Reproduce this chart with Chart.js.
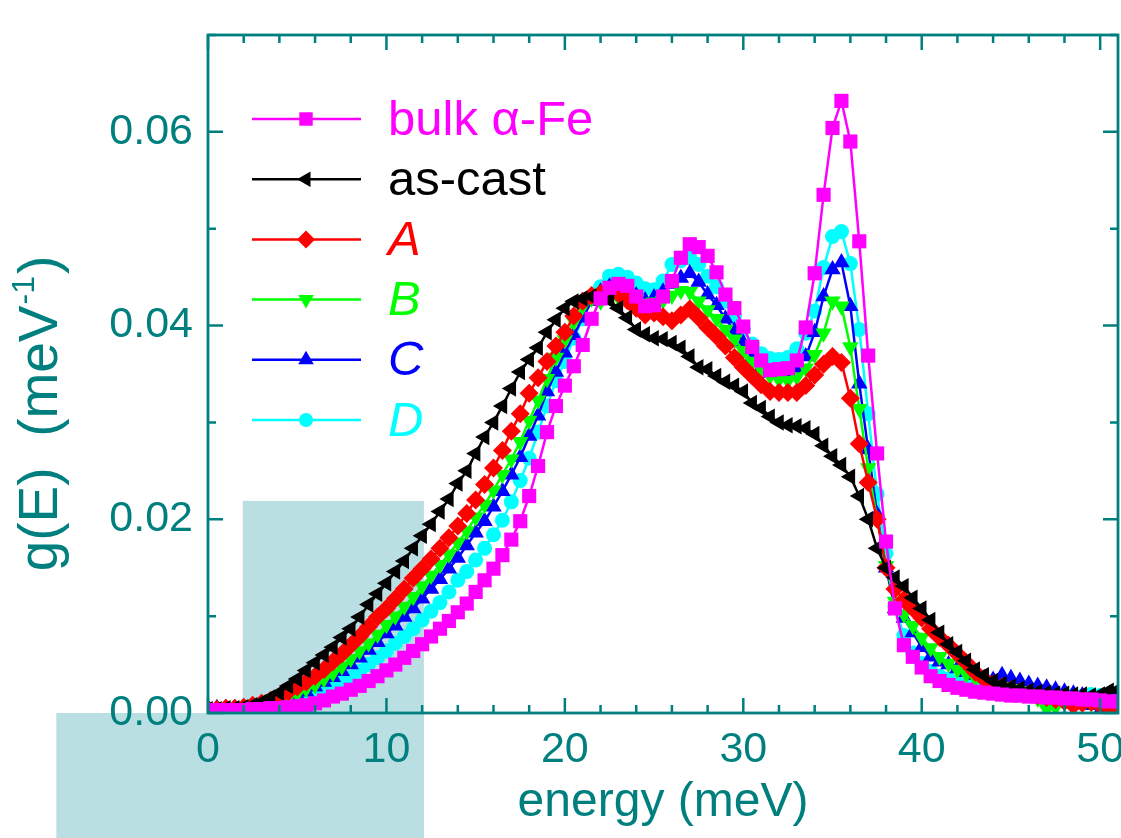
<!DOCTYPE html>
<html><head><meta charset="utf-8">
<script src="https://cdn.jsdelivr.net/npm/chart.js@4.4.1/dist/chart.umd.min.js"></script>
<style>html,body{margin:0;padding:0;background:#fff;overflow:hidden;}#wrap{width:1121px;height:838px;position:relative;}canvas{display:block;}</style>
</head><body><div id="wrap"><canvas id="c" width="1121" height="838"></canvas></div>
<script>
// ---- data ----
const energy = [
 0,0.5,1,1.5,2,2.5,3,3.5,4,4.5,
 5,5.5,6,6.5,7,7.5,8,8.5,9,9.5,
 10,10.5,11,11.5,12,12.5,13,13.5,14,14.5,
 15,15.5,16,16.5,17,17.5,18,18.5,19,19.5,
 20,20.5,21,21.5,22,22.5,23,23.5,24,24.5,
 25,25.5,26,26.5,27,27.5,28,28.5,29,29.5,
 30,30.5,31,31.5,32,32.5,33,33.5,34,34.5,
 35,35.5,36,36.5,37,37.5,38,38.5,39,39.5,
 40,40.5,41,41.5,42,42.5,43,43.5,44,44.5,
 45,45.5,46,46.5,47,47.5,48,48.5,49,49.5,
 50,50.5,51];
const bulkFe = [
 0.0003,0.0003,0.0003,0.0003,0.0003,0.0004,0.0004,0.0005,0.0005,0.0006,
 0.0007,0.0008,0.0010,0.0013,0.0017,0.0020,0.0024,0.0028,0.0033,0.0038,
 0.0044,0.0050,0.0057,0.0064,0.0071,0.0079,0.0087,0.0095,0.0104,0.0113,
 0.0125,0.0137,0.0149,0.0163,0.0179,0.0198,0.0224,0.0255,0.0290,0.0317,
 0.0338,0.0358,0.0380,0.0407,0.0428,0.0439,0.0443,0.0441,0.0430,0.0420,
 0.0421,0.0430,0.0446,0.0470,0.0484,0.0481,0.0472,0.0455,0.0432,0.0418,
 0.0399,0.0378,0.0364,0.0354,0.0355,0.0356,0.0364,0.0398,0.0454,0.0535,
 0.0604,0.0632,0.0590,0.0487,0.0369,0.0268,0.0177,0.0108,0.0070,0.0058,
 0.0047,0.0038,0.0033,0.0029,0.0026,0.0024,0.0022,0.0021,0.0020,0.0019,
 0.0018,0.0018,0.0017,0.0017,0.0016,0.0016,0.0015,0.0015,0.0014,0.0014,
 0.0013,0.0012,0.0012];
const asCast = [
 0.0004,0.0004,0.0005,0.0005,0.0006,0.0008,0.0011,0.0016,0.0021,0.0028,
 0.0035,0.0044,0.0052,0.0060,0.0068,0.0078,0.0087,0.0099,0.0112,0.0123,
 0.0134,0.0146,0.0157,0.0170,0.0183,0.0195,0.0208,0.0221,0.0237,0.0250,
 0.0268,0.0285,0.0300,0.0317,0.0335,0.0352,0.0365,0.0377,0.0393,0.0406,
 0.0418,0.0425,0.0428,0.0430,0.0429,0.0426,0.0418,0.0408,0.0396,0.0391,
 0.0387,0.0386,0.0382,0.0377,0.0368,0.0357,0.0355,0.0348,0.0342,0.0338,
 0.0332,0.0320,0.0315,0.0306,0.0300,0.0297,0.0296,0.0294,0.0288,0.0276,
 0.0265,0.0256,0.0244,0.0224,0.0200,0.0170,0.0150,0.0140,0.0131,0.0119,
 0.0108,0.0096,0.0083,0.0071,0.0063,0.0054,0.0045,0.0039,0.0033,0.0030,
 0.0027,0.0025,0.0023,0.0022,0.0021,0.0020,0.0020,0.0019,0.0019,0.0018,
 0.0019,0.0023,0.0024];
const sampleA = [
 0.0004,0.0004,0.0005,0.0005,0.0006,0.0008,0.0010,0.0013,0.0017,0.0022,
 0.0027,0.0032,0.0038,0.0045,0.0053,0.0061,0.0070,0.0079,0.0089,0.0099,
 0.0108,0.0118,0.0128,0.0139,0.0149,0.0159,0.0170,0.0181,0.0193,0.0206,
 0.0220,0.0236,0.0253,0.0271,0.0291,0.0309,0.0330,0.0346,0.0363,0.0379,
 0.0393,0.0410,0.0425,0.0431,0.0433,0.0434,0.0433,0.0426,0.0418,0.0411,
 0.0413,0.0409,0.0405,0.0411,0.0417,0.0408,0.0398,0.0389,0.0379,0.0367,
 0.0357,0.0348,0.0339,0.0332,0.0331,0.0331,0.0331,0.0338,0.0349,0.0360,
 0.0368,0.0362,0.0325,0.0278,0.0238,0.0200,0.0150,0.0128,0.0117,0.0108,
 0.0098,0.0087,0.0078,0.0070,0.0061,0.0052,0.0042,0.0035,0.0030,0.0027,
 0.0024,0.0022,0.0020,0.0018,0.0016,0.0014,0.0012,0.0008,0.0010,0.0011,
 0.0008,0.0006,0.0007];
const sampleB = [
 0.0004,0.0004,0.0004,0.0005,0.0005,0.0006,0.0008,0.0010,0.0012,0.0016,
 0.0020,0.0025,0.0029,0.0035,0.0041,0.0048,0.0056,0.0064,0.0072,0.0081,
 0.0091,0.0100,0.0110,0.0120,0.0131,0.0142,0.0153,0.0164,0.0176,0.0188,
 0.0202,0.0215,0.0230,0.0246,0.0262,0.0280,0.0302,0.0323,0.0345,0.0367,
 0.0385,0.0404,0.0420,0.0428,0.0425,0.0430,0.0429,0.0427,0.0427,0.0423,
 0.0424,0.0426,0.0431,0.0436,0.0435,0.0425,0.0416,0.0407,0.0396,0.0386,
 0.0374,0.0363,0.0355,0.0348,0.0344,0.0343,0.0347,0.0356,0.0370,0.0392,
 0.0425,0.0420,0.0378,0.0314,0.0253,0.0200,0.0152,0.0115,0.0102,0.0090,
 0.0078,0.0067,0.0058,0.0051,0.0045,0.0040,0.0036,0.0032,0.0029,0.0027,
 0.0025,0.0023,0.0021,0.0015,0.0004,0.0006,0.0015,0.0013,0.0012,0.0010,
 0.0009,0.0008,0.0008];
const sampleC = [
 0.0005,0.0005,0.0005,0.0005,0.0005,0.0006,0.0007,0.0009,0.0011,0.0014,
 0.0018,0.0022,0.0027,0.0032,0.0037,0.0043,0.0050,0.0057,0.0065,0.0073,
 0.0082,0.0090,0.0099,0.0108,0.0118,0.0128,0.0138,0.0149,0.0160,0.0173,
 0.0186,0.0198,0.0213,0.0229,0.0246,0.0264,0.0286,0.0307,0.0332,0.0352,
 0.0372,0.0390,0.0408,0.0425,0.0435,0.0440,0.0440,0.0436,0.0431,0.0426,
 0.0429,0.0435,0.0443,0.0449,0.0454,0.0445,0.0432,0.0421,0.0407,0.0395,
 0.0382,0.0367,0.0357,0.0351,0.0351,0.0352,0.0356,0.0368,0.0393,0.0430,
 0.0458,0.0465,0.0420,0.0340,0.0272,0.0205,0.0150,0.0108,0.0098,0.0083,
 0.0068,0.0058,0.0053,0.0050,0.0046,0.0042,0.0039,0.0036,0.0034,0.0039,
 0.0036,0.0033,0.0030,0.0028,0.0026,0.0024,0.0022,0.0020,0.0018,0.0008,
 0.0002,0.0012,0.0020];
const sampleD = [
 0.0003,0.0003,0.0003,0.0003,0.0004,0.0005,0.0006,0.0007,0.0009,0.0011,
 0.0014,0.0017,0.0020,0.0024,0.0028,0.0032,0.0037,0.0043,0.0050,0.0057,
 0.0064,0.0072,0.0079,0.0087,0.0096,0.0105,0.0114,0.0125,0.0137,0.0146,
 0.0158,0.0170,0.0184,0.0199,0.0218,0.0240,0.0263,0.0290,0.0317,0.0343,
 0.0363,0.0387,0.0407,0.0428,0.0440,0.0451,0.0453,0.0450,0.0444,0.0438,
 0.0437,0.0446,0.0463,0.0467,0.0470,0.0463,0.0451,0.0440,0.0425,0.0410,
 0.0396,0.0381,0.0371,0.0366,0.0365,0.0367,0.0376,0.0392,0.0415,0.0460,
 0.0492,0.0497,0.0464,0.0396,0.0309,0.0226,0.0165,0.0110,0.0080,0.0062,
 0.0051,0.0043,0.0038,0.0035,0.0031,0.0028,0.0026,0.0025,0.0024,0.0023,
 0.0022,0.0021,0.0020,0.0020,0.0019,0.0019,0.0018,0.0018,0.0017,0.0019,
 0.0018,0.0016,0.0015];
const seriesNames = ['bulk \u03B1-Fe','as-cast','A','B','C','D'];
const xTicks = [0,10,20,30,40,50];
const yTicks = [0.00,0.02,0.04,0.06];

// ---- styles ----
const TEAL = '#007f7f';
const FONT = "'Liberation Sans', Arial, sans-serif";
const styles = [
  {color:'#ff00ff', ps:'rect', rot:0, r:10, italic:false},
  {color:'#000000', ps:'triangle', rot:-90, r:9.5, italic:false},
  {color:'#ff0000', ps:'rectRot', rot:0, r:9.5, italic:true},
  {color:'#00ff00', ps:'triangle', rot:180, r:9.5, italic:true},
  {color:'#0000ff', ps:'triangle', rot:0, r:9.5, italic:true},
  {color:'#00ffff', ps:'circle', rot:0, r:7.5, italic:true}
];
const legendR = [9.5, 9, 9, 9, 9, 7];
const seriesValues = [bulkFe, asCast, sampleA, sampleB, sampleC, sampleD];

const datasets = seriesValues.map((vals,i)=>({
  label: seriesNames[i],
  data: energy.map((e,k)=>({x:e, y:vals[k]})),
  borderColor: styles[i].color,
  backgroundColor: styles[i].color,
  borderWidth: 2.5,
  pointStyle: styles[i].ps,
  rotation: styles[i].rot,
  pointRadius: styles[i].r,
  pointBorderWidth: 0,
  pointHoverRadius: styles[i].r,
  showLine: true,
  tension: 0,
  clip: 0
}));

const bgPlugin = {
  id:'bgRects',
  beforeDraw(chart){
    const {ctx, scales:{x,y}} = chart;
    const H = chart.height;
    ctx.save();
    ctx.fillStyle = '#badfe3';
    const xa = x.getPixelForValue(1.95), xb = x.getPixelForValue(12.1);
    const yt = y.getPixelForValue(0.0219);
    ctx.fillRect(xa, yt, xb-xa, H-yt);
    const x0 = x.getPixelForValue(-8.5), y0 = y.getPixelForValue(0);
    ctx.fillRect(x0, y0, xb-x0, H-y0);
    ctx.restore();
  }
};

const framePlugin = {
  id:'frame',
  afterDatasetsDraw(chart){
    const {ctx, chartArea:a, scales:{x,y}} = chart;
    ctx.save();
    ctx.strokeStyle = TEAL;
    ctx.lineWidth = 2.5;
    ctx.beginPath();
    for (let v=0; v<=51; v+=2){
      const px = x.getPixelForValue(v);
      const L = (v%10===0)?15:8;
      ctx.moveTo(px, a.bottom); ctx.lineTo(px, a.bottom-L);
      ctx.moveTo(px, a.top); ctx.lineTo(px, a.top+L);
    }
    for (let k=0; k<=7; k++){
      const py = y.getPixelForValue(k*0.01);
      const L = (k%2===0)?15:8;
      ctx.moveTo(a.left, py); ctx.lineTo(a.left+L, py);
      ctx.moveTo(a.right, py); ctx.lineTo(a.right-L, py);
    }
    ctx.stroke();
    ctx.lineWidth = 2.8;
    ctx.strokeRect(a.left, a.top, a.right-a.left, a.bottom-a.top);
    // x tick labels
    ctx.fillStyle = TEAL;
    ctx.font = '43px ' + FONT;
    ctx.textAlign = 'center'; ctx.textBaseline = 'top';
    xTicks.forEach(v => ctx.fillText(String(v), x.getPixelForValue(v), a.bottom + 16));
    ctx.restore();
  }
};

const textPlugin = {
  id:'texts',
  afterDraw(chart){
    const {ctx, chartArea:a} = chart;
    ctx.save();
    // legend
    const lx1 = 252, lx2 = 361, mx = 306, tx = 388;
    for (let i=0;i<6;i++){
      const yy = 119 + i*60.2;
      const s = styles[i];
      ctx.strokeStyle = s.color; ctx.fillStyle = s.color; ctx.lineWidth = 2.5;
      ctx.beginPath(); ctx.moveTo(lx1,yy); ctx.lineTo(lx2,yy); ctx.stroke();
      Chart.helpers.drawPoint(ctx, {pointStyle:s.ps, rotation:s.rot, radius:legendR[i], borderWidth:0}, mx, yy);
      ctx.font = (s.italic?'italic ':'') + '49px ' + FONT;
      ctx.textAlign = 'left'; ctx.textBaseline = 'middle';
      ctx.fillText(seriesNames[i], tx, yy+2);
    }
    // x title
    ctx.fillStyle = TEAL;
    ctx.font = '48px ' + FONT;
    ctx.textAlign = 'center'; ctx.textBaseline = 'middle';
    ctx.fillText('energy (meV)', (a.left+a.right)/2, 803);
    // y title
    ctx.translate(42, 415);
    ctx.rotate(-Math.PI/2);
    const main = 'g(E)  (meV', sup = '-1', end = ')';
    ctx.font = '55px ' + FONT;
    const w1 = ctx.measureText(main).width, w3 = ctx.measureText(end).width;
    ctx.font = '32px ' + FONT;
    const w2 = ctx.measureText(sup).width;
    let sx = -(w1+w2+w3)/2;
    ctx.textAlign = 'left'; ctx.textBaseline = 'middle';
    ctx.font = '55px ' + FONT; ctx.fillText(main, sx, 0);
    ctx.font = '32px ' + FONT; ctx.fillText(sup, sx+w1+1, -17);
    ctx.font = '55px ' + FONT; ctx.fillText(end, sx+w1+w2+3, 0);
    ctx.restore();
  }
};

new Chart(document.getElementById('c'), {
  type:'scatter',
  data:{datasets},
  options:{
    responsive:false,
    animation:false,
    devicePixelRatio:1,
    layout:{autoPadding:false, padding:{left:0, top:35, right:3, bottom:0}},
    plugins:{legend:{display:false}, tooltip:{enabled:false}},
    scales:{
      x:{
        type:'linear', min:0, max:51,
        afterFit(s){ s.height = 125; s.paddingLeft = 0; s.paddingRight = 0; },
        afterBuildTicks(s){ s.ticks = xTicks.map(v=>({value:v})); },
        grid:{display:false, drawTicks:false}, border:{display:false},
        ticks:{display:false}
      },
      y:{
        type:'linear', min:0, max:0.07,
        afterFit(s){ s.width = 208; s.paddingTop = 0; s.paddingBottom = 0; },
        afterBuildTicks(s){ s.ticks = yTicks.map(v=>({value:v})); },
        grid:{display:false, drawTicks:false}, border:{display:false},
        ticks:{color:TEAL, font:{family:FONT, size:43}, padding:15,
          callback:(v)=>Number(v).toFixed(2)}
      }
    }
  },
  plugins:[bgPlugin, framePlugin, textPlugin]
});
</script></body></html>
